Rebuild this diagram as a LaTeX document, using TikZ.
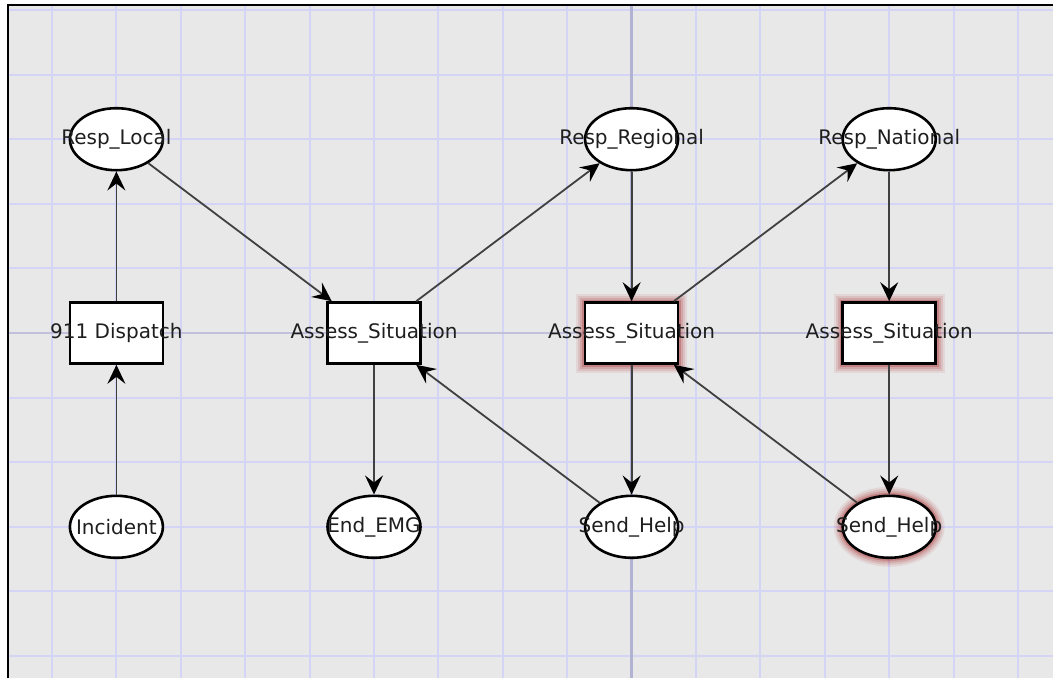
\documentclass[tikz,border=0pt]{standalone}
\usepackage{fontspec}
\setmainfont{DejaVu Sans}
\usetikzlibrary{arrows.meta,shapes.geometric}
\definecolor{bg}{HTML}{E8E8E8}
\definecolor{gridc}{HTML}{D4D4F6}
\definecolor{axisc}{HTML}{B2B2D4}
\definecolor{edgec}{HTML}{404040}
\definecolor{glowc}{HTML}{B04040}
\definecolor{txt}{HTML}{1E1E1E}

\begin{document}
\begin{tikzpicture}[x=1pt,y=-1pt,
  place/.style={ellipse, draw=black, line width=2.6pt, fill=white,
    minimum width=93pt, minimum height=62pt, inner sep=0pt},
  trans/.style={rectangle, draw=black, line width=2.6pt, fill=white,
    minimum width=93pt, minimum height=61pt, inner sep=0pt},
  lbl/.style={font=\fontsize{20}{21}\selectfont, text=txt, inner sep=0pt},
  arc/.style={draw=edgec, line width=1.8pt,
    -{Stealth[length=19pt,width=18pt,inset=7pt,color=black]}},
  gridline/.style={draw=gridc, line width=2pt},
  axisline/.style={draw=axisc, line width=2.6pt},
]
\useasboundingbox (0,0) rectangle (1053,678);

% canvas and grid
\fill[white] (0,0) rectangle (1053,678);
\fill[bg] (8,5) rectangle (1053,678);
\foreach \k in {0,...,15}
  \draw[gridline] ({52+64.4*\k},5) -- ({52+64.4*\k},678);
\foreach \k in {0,...,10}
  \draw[gridline] (8,{10+64.6*\k}) -- (1053,{10+64.6*\k});
\draw[axisline] (631.6,5) -- (631.6,678);
\draw[axisline, draw=axisc!80] (8,333) -- (1053,333);
\draw[black, line width=2.4pt] (8,678) -- (8,5) -- (1053,5);

% highlight halos
\foreach \w/\o in {18/0.10, 14/0.14, 10/0.20, 6/0.35} {
  \draw[glowc, line width=\w pt, opacity=\o]
    (631.6-46.5,333-30.5) rectangle (631.6+46.5,333+30.5);
  \draw[glowc, line width=\w pt, opacity=\o]
    (889.2-46.5,333-30.5) rectangle (889.2+46.5,333+30.5);
  \draw[glowc, line width=\w pt, opacity=\o]
    (889.2,526.8) ellipse [x radius=46.5, y radius=31];
}

% places
\node[place] (rloc) at (116.4,139.2) {};
\node[place] (rreg) at (631.6,139.2) {};
\node[place] (rnat) at (889.2,139.2) {};
\node[place] (inc)  at (116.4,526.8) {};
\node[place] (end)  at (374,526.8) {};
\node[place] (sh1)  at (631.6,526.8) {};
\node[place] (sh2)  at (889.2,526.8) {};

% transitions
\node[trans] (disp) at (116.4,333) {};
\node[trans] (as1)  at (374,333) {};
\node[trans] (as2)  at (631.6,333) {};
\node[trans] (as3)  at (889.2,333) {};

% arcs
\draw[arc] (inc) -- (disp);
\draw[arc] (disp) -- (rloc);
\draw[arc] (rloc) -- (as1);
\draw[arc] (as1) -- (rreg);
\draw[arc] (as1) -- (end);
\draw[arc] (sh1) -- (as1);
\draw[arc] (rreg) -- (as2);
\draw[arc] (as2) -- (sh1);
\draw[arc] (as2) -- (rnat);
\draw[arc] (sh2) -- (as2);
\draw[arc] (rnat) -- (as3);
\draw[arc] (as3) -- (sh2);

% labels
\node[lbl] at (rloc) {Resp\_Local};
\node[lbl] at (rreg) {Resp\_Regional};
\node[lbl] at (rnat) {Resp\_National};
\node[lbl] at (inc)  {Incident};
\node[lbl] at (end)  {End\_EMG};
\node[lbl] at (sh1)  {Send\_Help};
\node[lbl] at (sh2)  {Send\_Help};
\node[lbl] at (disp) {911 Dispatch};
\node[lbl] at (as1)  {Assess\_Situation};
\node[lbl] at (as2)  {Assess\_Situation};
\node[lbl] at (as3)  {Assess\_Situation};
\end{tikzpicture}
\end{document}
